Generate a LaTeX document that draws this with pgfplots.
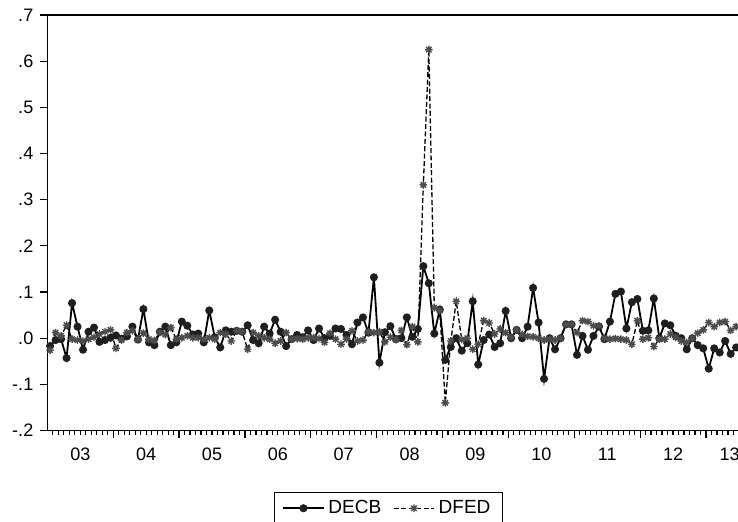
\documentclass[border=0pt]{standalone}
\usepackage{fontspec}
\setmainfont{Liberation Sans}
\usepackage{pgfplots}
\usepackage{pgfplotstable}
\pgfplotsset{compat=1.18}
\pgfdeclareplotmark{star8}{%
  \pgfpathmoveto{\pgfqpoint{-\pgfplotmarksize}{0pt}}\pgfpathlineto{\pgfqpoint{\pgfplotmarksize}{0pt}}%
  \pgfpathmoveto{\pgfqpoint{0pt}{-\pgfplotmarksize}}\pgfpathlineto{\pgfqpoint{0pt}{\pgfplotmarksize}}%
  \pgfpathmoveto{\pgfqpoint{-0.707\pgfplotmarksize}{-0.707\pgfplotmarksize}}\pgfpathlineto{\pgfqpoint{0.707\pgfplotmarksize}{0.707\pgfplotmarksize}}%
  \pgfpathmoveto{\pgfqpoint{-0.707\pgfplotmarksize}{0.707\pgfplotmarksize}}\pgfpathlineto{\pgfqpoint{0.707\pgfplotmarksize}{-0.707\pgfplotmarksize}}%
  \pgfusepathqstroke}
\pgfplotstableread{
t decb dfed
0 -0.017 -0.026
1 -0.004 0.012
2 -0.002 0.005
3 -0.043 0.028
4 0.076 -0.002
5 0.025 -0.004
6 -0.025 -0.006
7 0.014 -0.002
8 0.023 0.002
9 -0.008 0.009
10 -0.004 0.014
11 0.001 0.018
12 0.006 -0.022
13 -0.001 -0.004
14 0.004 0.012
15 0.025 0.016
16 -0.003 -0.002
17 0.063 0.011
18 -0.009 -0.002
19 -0.015 -0.005
20 0.014 0.012
21 0.025 0.008
22 -0.015 0.023
23 -0.009 -0.002
24 0.036 0.001
25 0.027 0.005
26 0.008 0.001
27 0.010 0.001
28 -0.009 -0.002
29 0.060 0.001
30 0.002 -0.002
31 -0.020 0.012
32 0.017 0.009
33 0.014 -0.006
34 0.016 0.016
35 0.014 0.014
36 0.028 -0.024
37 -0.004 0.012
38 -0.011 0.005
39 0.025 0.001
40 0.010 -0.002
41 0.040 -0.011
42 0.014 -0.006
43 -0.017 0.012
44 -0.002 -0.002
45 0.007 -0.001
46 0.002 -0.002
47 0.017 0.001
48 -0.004 0.001
49 0.021 -0.001
50 0.000 -0.009
51 0.005 0.011
52 0.021 -0.002
53 0.020 -0.013
54 0.007 -0.002
55 -0.013 0.016
56 0.034 -0.006
57 0.045 -0.004
58 0.012 0.014
59 0.132 0.012
60 -0.053 0.014
61 0.013 -0.008
62 0.026 0.002
63 -0.002 -0.003
64 0.000 0.017
65 0.045 -0.014
66 0.003 0.025
67 0.020 -0.008
68 0.156 0.332
69 0.119 0.625
70 0.010 0.066
71 0.062 0.060
72 -0.047 -0.140
73 -0.019 -0.006
74 0.000 0.080
75 -0.027 -0.003
76 -0.011 0.000
77 0.080 -0.024
78 -0.057 -0.013
79 -0.004 0.038
80 0.008 0.033
81 -0.019 0.009
82 -0.011 0.020
83 0.059 0.012
84 0.000 0.002
85 0.018 0.018
86 0.000 0.008
87 0.025 0.004
88 0.109 0.003
89 0.034 0.000
90 -0.088 -0.004
91 0.000 -0.002
92 -0.024 -0.004
93 0.000 0.000
94 0.030 0.030
95 0.030 0.030
96 -0.036 0.012
97 0.005 0.038
98 -0.025 0.036
99 0.005 0.027
100 0.025 0.027
101 -0.002 0.000
102 0.036 -0.002
103 0.096 -0.001
104 0.101 -0.002
105 0.021 -0.004
106 0.078 -0.013
107 0.085 0.038
108 0.016 -0.002
109 0.017 0.001
110 0.086 -0.018
111 0.000 -0.002
112 0.032 -0.002
113 0.028 0.009
114 0.005 0.002
115 0.000 -0.006
116 -0.024 -0.009
117 0.000 0.000
118 -0.015 0.011
119 -0.022 0.018
120 -0.066 0.034
121 -0.022 0.025
122 -0.031 0.034
123 -0.006 0.036
124 -0.034 0.017
125 -0.020 0.025
}\data
\begin{document}
\begin{tikzpicture}
\begin{axis}[
  scale only axis, width=345.35pt, height=207.5pt,
  xmin=-0.5, xmax=125.5, ymin=-0.2, ymax=0.7,
  axis line style={line width=0.75pt},
  tick align=outside,
  xtick pos=left, ytick pos=left,
  xtick={11.5,23.5,35.5,47.5,59.5,71.5,83.5,95.5,107.5,119.5},
  xticklabels={},
  minor xtick={0.5,1.5,...,124.5},
  major tick length=3.5pt, minor tick length=2pt,
  every tick/.style={black, line width=0.6pt},
  extra x ticks={5.5,17.5,29.5,41.5,53.5,65.5,77.5,89.5,101.5,113.5,123.8},
  extra x tick labels={03,04,05,06,07,08,09,10,11,12,13},
  extra x tick style={major tick length=0pt, xticklabel style={yshift=-5.3pt}},
  ytick={-0.2,-0.1,0,0.1,0.2,0.3,0.4,0.5,0.6,0.7},
  yticklabels={-.2,-.1,.0,.1,.2,.3,.4,.5,.6,.7},
  ticklabel style={font=\fontsize{9}{10}\selectfont},
  legend style={at={(0.4933,-0.147)}, anchor=north, legend columns=2,
    draw=black, line width=0.5pt, font=\fontsize{9.5}{10}\selectfont,
    inner xsep=4pt,
    /tikz/every even column/.append style={column sep=4pt}},
  legend image code/.code={\draw[mark repeat=2,mark phase=2] plot coordinates {(0pt,0pt)(10pt,0pt)(20pt,0pt)};},
]
\addplot[black, line width=0.9pt, mark=*, mark size=1.55pt,
  mark options={fill=black!88, draw=black!88}] table[x=t,y=decb]{\data};
\addlegendentry{DECB}
\addplot[black, line width=0.65pt, dash pattern=on 2.5pt off 1.2pt, mark=star8, mark size=1.9pt,
  mark options={solid, draw=black!70, line width=0.7pt}] table[x=t,y=dfed]{\data};
\addlegendentry{DFED}
\end{axis}
\pgfresetboundingbox
\path[use as bounding box] (-23.65pt,-45.5pt) rectangle (344.9pt,215pt);
\end{tikzpicture}
\end{document}
